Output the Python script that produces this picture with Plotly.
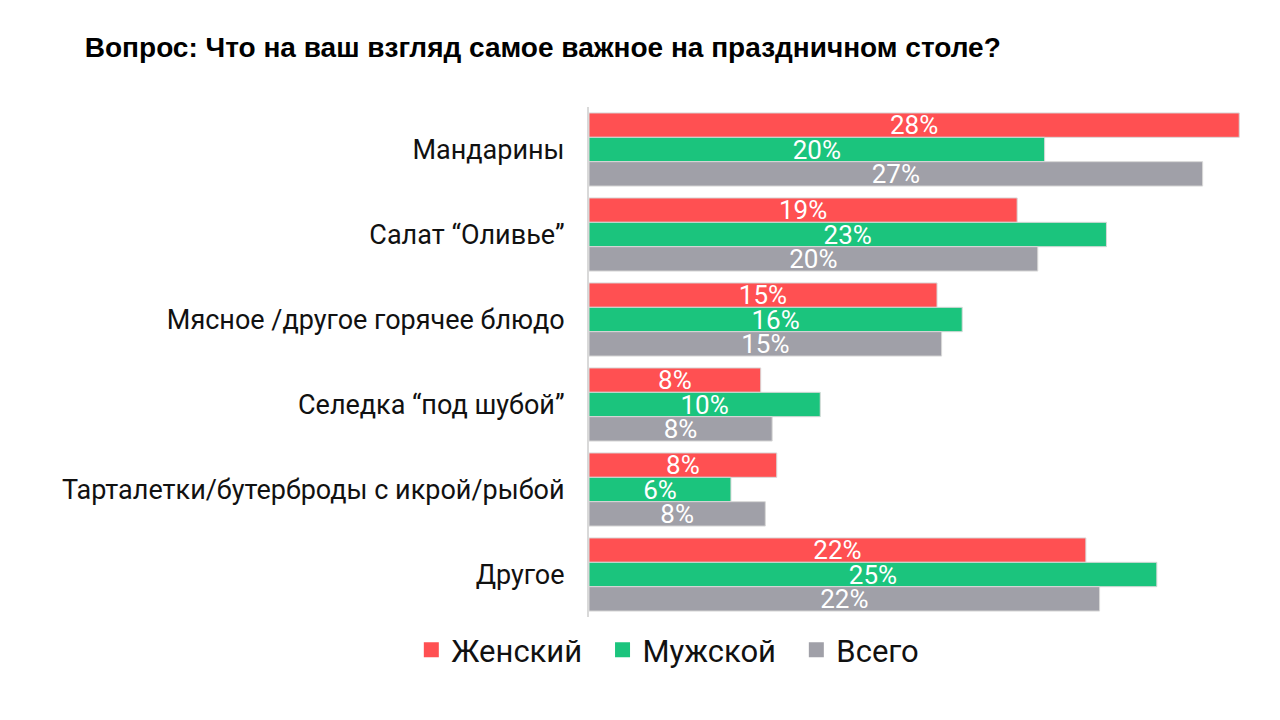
import plotly.graph_objects as go

categories = [
    "Мандарины",
    "Салат “Оливье”",
    "Мясное /другое горячее блюдо",
    "Селедка “под шубой”",
    "Тарталетки/бутерброды с икрой/рыбой",
    "Другое",
]
female = [28.4, 18.7, 15.2, 7.5, 8.2, 21.7]
male = [19.9, 22.6, 16.3, 10.1, 6.2, 24.8]
total = [26.8, 19.6, 15.4, 8.0, 7.7, 22.3]

series_names = ["Женский", "Мужской", "Всего"]
colors = ["#FF5052", "#1BC47D", "#A0A0A8"]

fig = go.Figure()
for name, vals, color in zip(series_names, [female, male, total], colors):
    fig.add_trace(
        go.Bar(
            y=categories,
            x=vals,
            name=name,
            orientation="h",
            showlegend=False,
            marker=dict(color=color, line=dict(color="#d8d8d8", width=1)),
            texttemplate="%{x:.0f}%",
            textposition="inside",
            insidetextanchor="middle",
            constraintext="none",
            insidetextfont=dict(family="Roboto", size=26, color="white"),
        )
    )

# legend entries with bigger square swatches (nbsp pad keeps wider gaps)
for name, color in zip(series_names, colors):
    fig.add_trace(
        go.Scatter(
            x=[None],
            y=[None],
            mode="markers",
            name=name + "\u00a0\u00a0",
            marker=dict(symbol="square", size=15, color=color),
        )
    )

fig.update_layout(
    width=1280,
    height=720,
    barmode="group",
    bargap=0.14,
    bargroupgap=0,
    plot_bgcolor="white",
    paper_bgcolor="white",
    font=dict(family="Roboto", color="#111111"),
    title=dict(
        text="<b>Вопрос: Что на ваш взгляд самое важное на праздничном столе?</b>",
        x=0.060,
        xanchor="left",
        y=0.945,
        yanchor="middle",
        font=dict(family="Liberation Sans", size=28, color="black"),
    ),
    margin=dict(l=581, r=35, t=99, b=111),
    legend=dict(
        orientation="h",
        x=0.13,
        xanchor="center",
        y=-0.065,
        yanchor="middle",
        font=dict(family="Roboto", size=31, color="#111111"),
        traceorder="normal",
        itemwidth=30,
    ),
    showlegend=True,
)

fig.update_xaxes(range=[0, 29], visible=False, showgrid=False)
fig.update_yaxes(
    type="category",
    autorange="reversed",
    showline=True,
    linecolor="#d9d9d9",
    linewidth=2,
    ticks="",
    ticklabelstandoff=17,
    tickfont=dict(family="Roboto", size=27, color="#111111"),
)

fig.write_html("out.html")
